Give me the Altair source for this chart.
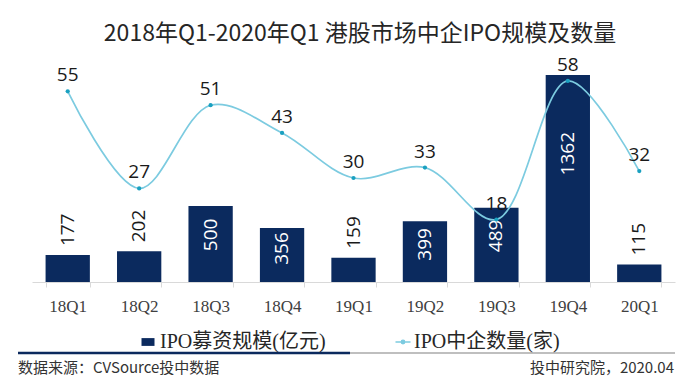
import altair as alt
import pandas as pd

quarters = ["18Q1", "18Q2", "18Q3", "18Q4", "19Q1", "19Q2", "19Q3", "19Q4", "20Q1"]
amount = [177, 202, 500, 356, 159, 399, 489, 1362, 115]
count = [55, 27, 51, 43, 30, 33, 18, 58, 32]

bar_name = "IPO募资规模(亿元)"
line_name = "IPO中企数量(家)"
title_text = "2018年Q1-2020年Q1 港股市场中企IPO规模及数量"
source_text = "数据来源：CVSource投中数据"
credit_text = "投中研究院，2020.04"

NAVY = "#0b2a5e"
LINE = "#7ccbe0"
DOT = "#1aa0c0"
NUMFONT = "Open Sans"
CJK = "Noto Sans CJK SC"
SERIF = "Liberation Serif, Noto Sans CJK SC"

df = pd.DataFrame({"q": quarters, "amount": amount, "count": count,
                   "bar_s": bar_name, "line_s": line_name})

x = alt.X("q:N", sort=quarters, title=None,
          scale=alt.Scale(paddingInner=0.38, paddingOuter=0.19),
          axis=alt.Axis(labelAngle=0, labelFont=SERIF, labelFontSize=17,
                        labelColor="#404040", domainColor="#d9d9d9",
                        tickColor="#d9d9d9", tickSize=5, labelPadding=11,
                        tickBand="extent", grid=False))

ybar = alt.Scale(domain=[0, 1540], nice=False)
yline = alt.Scale(domain=[0, 67.5], nice=False)

base = alt.Chart(df)

bars = base.mark_bar().encode(
    x=x,
    y=alt.Y("amount:Q", scale=ybar, axis=None),
    fill=alt.Fill("bar_s:N", scale=alt.Scale(range=[NAVY]),
                  legend=alt.Legend(title=None, orient="none", legendX=106, legendY=284,
                                    symbolType="M-1,-0.6H1V0.6H-1Z", symbolSize=169,
                                    labelFont=SERIF, labelFontSize=20, labelColor="#262626",
                                    labelOffset=2, labelLimit=400)),
)
out_lab = base.transform_filter("datum.amount < 300").mark_text(
    angle=270, align="left", baseline="middle", dx=9, font=NUMFONT, fontSize=19,
    color="#1a1a1a").encode(
    x=x, y=alt.Y("amount:Q", scale=ybar, axis=None), text="amount:Q")
in_lab = base.transform_filter("datum.amount >= 300").transform_calculate(
    ly="datum.amount * 0.62").mark_text(
    angle=270, align="center", baseline="middle", font=NUMFONT, fontSize=19,
    color="white").encode(
    x=x, y=alt.Y("ly:Q", scale=ybar, axis=None), text="amount:Q")

bar_layer = alt.layer(bars, out_lab, in_lab)

line = base.mark_line(interpolate="catmull-rom", strokeWidth=1.7).encode(
    x=x,
    y=alt.Y("count:Q", scale=yline, axis=None),
    stroke=alt.Stroke("line_s:N", scale=alt.Scale(range=[LINE]),
                      legend=alt.Legend(title=None, orient="none", legendX=361, legendY=284,
                                        symbolType="M-1,0H1M-0.22,0A0.22,0.22 0 1,1 0.22,0A0.22,0.22 0 1,1 -0.22,0Z",
                                        symbolSize=225, symbolStrokeWidth=1.6,
                                        symbolFillColor=DOT,
                                        labelFont=SERIF, labelFontSize=20, labelColor="#262626",
                                        labelOffset=1, labelLimit=400)),
)
pts = base.mark_point(filled=True, size=18, color=DOT, opacity=1).encode(
    x=x, y=alt.Y("count:Q", scale=yline, axis=None))
pt_lab = base.mark_text(dy=-10, baseline="alphabetic", font=NUMFONT, fontSize=19,
                        color="#1a1a1a").encode(
    x=x, y=alt.Y("count:Q", scale=yline, axis=None), text="count:Q")

line_layer = alt.layer(line, pts, pt_lab)

one = pd.DataFrame({"a": [0]})
ann = alt.Chart(one)
title = ann.mark_text(align="center", baseline="alphabetic", font=CJK, fontSize=23,
                      color="#262626").encode(
    x=alt.value(328), y=alt.value(-7), text=alt.value(title_text))
rule_dark = ann.mark_rule(color=NAVY, strokeWidth=2.5).encode(
    x=alt.value(-14), x2=alt.value(318), y=alt.value(305))
rule_gray = ann.mark_rule(color="#bfbfbf", strokeWidth=2).encode(
    x=alt.value(318), x2=alt.value(643), y=alt.value(305))
src = ann.mark_text(align="left", baseline="middle", font=CJK, fontSize=15,
                    color="#333333").encode(
    x=alt.value(-14), y=alt.value(320), text=alt.value(source_text))
cred = ann.mark_text(align="right", baseline="middle", font=CJK, fontSize=15,
                     color="#333333").encode(
    x=alt.value(642), y=alt.value(320), text=alt.value(credit_text))

chart = alt.layer(bar_layer, line_layer, title, rule_dark, rule_gray, src, cred).resolve_scale(
    y="independent"
).properties(
    width=643, height=234,
    padding={"left": 24, "top": 40, "right": 16, "bottom": 96},
    autosize="none",
).configure_view(stroke=None)

chart.save("out.html", embed_options={"renderer": "svg", "actions": False})
